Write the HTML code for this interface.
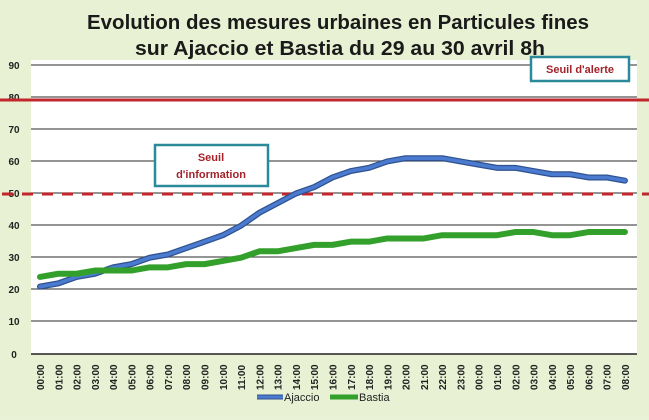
<!DOCTYPE html>
<html><head><style>
body{margin:0;width:649px;height:415px;overflow:hidden;background:#e9f2d6;}
</style></head><body>
<svg width="649" height="415" xmlns="http://www.w3.org/2000/svg" font-family="Liberation Sans, sans-serif">
<rect x="0" y="0" width="649" height="415" fill="#e8f1d3"/>
<rect x="31" y="60" width="606" height="294" fill="#ffffff"/>
<text x="338" y="29" text-anchor="middle" font-size="20" font-weight="bold" fill="#1a1a1a" textLength="502" lengthAdjust="spacingAndGlyphs">Evolution des mesures urbaines en Particules fines</text>
<text x="340" y="55" text-anchor="middle" font-size="20" font-weight="bold" fill="#1a1a1a" textLength="410" lengthAdjust="spacingAndGlyphs">sur Ajaccio et Bastia du 29 au 30 avril 8h</text>
<g stroke="#555" stroke-width="1.2">
<line x1="31" y1="65" x2="637" y2="65"/><line x1="31" y1="97" x2="637" y2="97"/>
<line x1="31" y1="129" x2="637" y2="129"/><line x1="31" y1="161" x2="637" y2="161"/>
<line x1="31" y1="193" x2="637" y2="193"/><line x1="31" y1="225" x2="637" y2="225"/>
<line x1="31" y1="257" x2="637" y2="257"/><line x1="31" y1="289" x2="637" y2="289"/>
<line x1="31" y1="321" x2="637" y2="321"/><line x1="31" y1="354" x2="637" y2="354" stroke="#222" stroke-width="1.5"/>
</g>
<g font-size="10" font-weight="bold" fill="#222" text-anchor="middle">
<text x="14" y="69">90</text><text x="14" y="101">80</text><text x="14" y="133">70</text><text x="14" y="165">60</text><text x="14" y="197">50</text><text x="14" y="229">40</text><text x="14" y="261">30</text><text x="14" y="293">20</text><text x="14" y="325">10</text><text x="14" y="358">0</text>
</g>
<line x1="0" y1="100" x2="649" y2="100" stroke="#c0262c" stroke-width="3"/>
<line x1="2" y1="194" x2="649" y2="194" stroke="#c0262c" stroke-width="3" stroke-dasharray="11,9"/>
<g id="lbl" font-size="10" font-weight="bold" fill="#222"></g>
<polyline id="aj" fill="none" stroke="#2f528f" stroke-width="6" stroke-linejoin="round" stroke-linecap="round"/>
<polyline id="aj2" fill="none" stroke="#4a7bd0" stroke-width="3.5" stroke-linejoin="round" stroke-linecap="round"/>
<polyline id="ba" fill="none" stroke="#34a02c" stroke-width="6" stroke-linejoin="round" stroke-linecap="round"/>
<rect x="155" y="145" width="113" height="41" fill="#fff" stroke="#2a8a9a" stroke-width="2.5"/>
<text x="211" y="161" text-anchor="middle" font-size="11" font-weight="bold" fill="#a3232a">Seuil</text>
<text x="211" y="178" text-anchor="middle" font-size="11" font-weight="bold" fill="#a3232a">d'information</text>
<rect x="531" y="57" width="98" height="24" fill="#fff" stroke="#2a8a9a" stroke-width="2.5"/>
<text x="580" y="73" text-anchor="middle" font-size="11" font-weight="bold" fill="#a3232a">Seuil d'alerte</text>
<line x1="257" y1="397" x2="283" y2="397" stroke="#2f528f" stroke-width="5"/>
<line x1="257" y1="397" x2="283" y2="397" stroke="#4a7bd0" stroke-width="3"/>
<text x="284" y="401" font-size="11" fill="#222">Ajaccio</text>
<line x1="330" y1="397" x2="358" y2="397" stroke="#34a02c" stroke-width="5"/>
<text x="359" y="401" font-size="11" fill="#222">Bastia</text>
</svg>
<script>
var A=[21,22,24,25,27,28,30,31,33,35,37,40,44,47,50,52,55,57,58,60,61,61,61,60,59,58,58,57,56,56,55,55,54];
var B=[24,25,25,26,26,26,27,27,28,28,29,30,32,32,33,34,34,35,35,36,36,36,37,37,37,37,38,38,37,37,38,38,38];
function X(i){return 40+i*18.28;}function Y(v){return 354-v*3.21;}
var pa="",pb="",g=document.getElementById("lbl"),s="";
for(var i=0;i<33;i++){pa+=X(i)+","+Y(A[i])+" ";pb+=X(i)+","+Y(B[i])+" ";
var h=(i<24?i:i-24);var t=(h<10?"0":"")+h+":00";var x=X(i)+4;
s+='<text transform="translate('+x+',390) rotate(-90)">'+t+'</text>';}
g.innerHTML=s;
document.getElementById("aj").setAttribute("points",pa);
document.getElementById("aj2").setAttribute("points",pa);
document.getElementById("ba").setAttribute("points",pb);
</script>
</body></html>
